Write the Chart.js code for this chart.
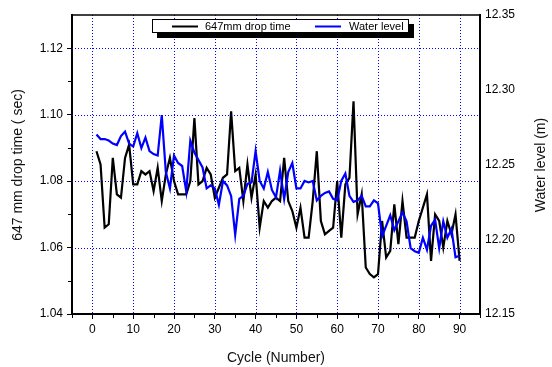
<!DOCTYPE html>
<html>
<head>
<meta charset="utf-8">
<script src="https://cdn.jsdelivr.net/npm/chart.js@4/dist/chart.umd.min.js"></script>
<style>
  html, body { margin: 0; padding: 0; background: #fff; }
  #wrap { width: 552px; height: 367px; position: relative; }
</style>
</head>
<body>
<div id="wrap"><canvas id="chart"></canvas></div>
<script>
// datos
const cycles = [1,2,3,4,5,6,7,8,9,10,11,12,13,14,15,16,17,18,19,20,
  21,22,23,24,25,26,27,28,29,30,31,32,33,34,35,36,37,38,39,40,
  41,42,43,44,45,46,47,48,49,50,51,52,53,54,55,56,57,58,59,60,
  61,62,63,64,65,66,67,68,69,70,71,72,73,74,75,76,77,78,79,80,
  81,82,83,84,85,86,87,88,89,90];

const dropTime = [1.089,1.085,1.066,1.067,1.087,1.076,1.075,1.087,1.091,1.079,
  1.079,1.083,1.082,1.083,1.077,1.084,1.074,1.082,1.087,1.080,
  1.076,1.076,1.076,1.080,1.099,1.079,1.080,1.084,1.082,1.075,
  1.078,1.081,1.082,1.101,1.083,1.084,1.074,1.085,1.075,1.082,
  1.066,1.074,1.072,1.074,1.075,1.074,1.087,1.074,1.071,1.066,
  1.072,1.063,1.063,1.074,1.089,1.068,1.064,1.065,1.066,1.080,
  1.063,1.079,1.081,1.104,1.070,1.076,1.054,1.052,1.051,1.052,
  1.068,1.057,1.059,1.073,1.061,1.074,1.063,1.063,1.063,1.068,
  1.072,1.076,1.056,1.070,1.068,1.060,1.068,1.064,1.070,1.056];

const waterLevel = [12.270,12.267,12.267,12.266,12.264,12.263,12.269,12.272,12.264,12.262,
  12.271,12.261,12.268,12.259,12.257,12.256,12.283,12.245,12.234,12.256,
  12.251,12.249,12.232,12.266,12.258,12.253,12.248,12.234,12.236,12.234,
  12.223,12.239,12.236,12.229,12.203,12.227,12.229,12.237,12.238,12.259,
  12.239,12.234,12.245,12.233,12.228,12.246,12.227,12.245,12.251,12.234,
  12.234,12.239,12.238,12.239,12.226,12.229,12.231,12.232,12.227,12.226,
  12.239,12.244,12.229,12.225,12.226,12.229,12.222,12.222,12.226,12.224,
  12.202,12.209,12.216,12.206,12.212,12.218,12.212,12.194,12.192,12.191,
  12.201,12.193,12.209,12.213,12.194,12.212,12.201,12.207,12.188,12.189];

const xTicks = [0,10,20,30,40,50,60,70,80,90];
const xMinor = [-5,5,15,25,35,45,55,65,75,85,95];
const leftTicks = [1.04,1.06,1.08,1.10,1.12];
const leftMinor = [1.05,1.07,1.09,1.11];
const rightTicks = [12.15,12.20,12.25,12.30,12.35];

const FONT = "'Liberation Sans', Arial, sans-serif";

const pts = (ys) => cycles.map((c, i) => ({ x: c, y: ys[i] }));

const decoPlugin = {
  id: "deco",
  beforeDatasetsDraw(chart) {
    const { ctx, chartArea: a, scales } = chart;
    ctx.save();
    ctx.strokeStyle = "#0000ff";
    ctx.lineWidth = 1;
    ctx.setLineDash([1, 2]);
    xTicks.forEach((v) => {
      const x = Math.round(scales.x.getPixelForValue(v)) + 0.5;
      ctx.beginPath(); ctx.moveTo(x, a.top); ctx.lineTo(x, a.bottom); ctx.stroke();
    });
    leftTicks.slice(1).forEach((v) => {
      const y = Math.round(scales.y.getPixelForValue(v)) + 0.5;
      ctx.beginPath(); ctx.moveTo(a.left, y); ctx.lineTo(a.right, y); ctx.stroke();
    });
    ctx.restore();
  },
  afterDraw(chart) {
    const { ctx, chartArea: a, scales } = chart;
    ctx.save();
    // ticks menores
    ctx.strokeStyle = "#000";
    ctx.lineWidth = 1;
    xMinor.forEach((v) => {
      const x = Math.round(scales.x.getPixelForValue(v)) + 0.5;
      ctx.beginPath(); ctx.moveTo(x, a.bottom); ctx.lineTo(x, a.bottom + 4); ctx.stroke();
    });
    leftMinor.forEach((v) => {
      const y = Math.round(scales.y.getPixelForValue(v)) + 0.5;
      ctx.beginPath(); ctx.moveTo(a.left - 4, y); ctx.lineTo(a.left, y); ctx.stroke();
    });
    // borde superior
    ctx.lineWidth = 1.5;
    ctx.beginPath(); ctx.moveTo(a.left, a.top); ctx.lineTo(a.right, a.top); ctx.stroke();

    // leyenda
    ctx.fillStyle = "#000";
    ctx.fillRect(157, 24, 257, 14);
    ctx.fillStyle = "#fff";
    ctx.fillRect(152, 19, 257, 14);
    ctx.lineWidth = 1;
    ctx.strokeRect(152.5, 19.5, 256, 13);
    ctx.lineWidth = 2;
    ctx.beginPath(); ctx.moveTo(172, 26.5); ctx.lineTo(198, 26.5); ctx.stroke();
    ctx.strokeStyle = "#0000ff";
    ctx.beginPath(); ctx.moveTo(315, 26.5); ctx.lineTo(341, 26.5); ctx.stroke();
    ctx.fillStyle = "#000";
    ctx.font = "11px " + FONT;
    ctx.textBaseline = "middle";
    ctx.textAlign = "left";
    ctx.fillText("647mm drop time", 205, 26.5);
    ctx.fillText("Water level", 349, 26.5);

    // titulos de ejes
    ctx.font = "14px " + FONT;
    ctx.fillStyle = "#111";
    ctx.textAlign = "center";
    ctx.fillText("Cycle (Number)", 276, 358);
    ctx.save();
    ctx.translate(18, 165);
    ctx.rotate(-Math.PI / 2);
    ctx.fillText("647 mm drop time ( sec)", 0, 0);
    ctx.restore();
    ctx.save();
    ctx.translate(541, 165);
    ctx.rotate(-Math.PI / 2);
    ctx.fillText("Water level (m)", 0, 0);
    ctx.restore();
    ctx.restore();
  },
};

const tickFont = { size: 12, family: FONT };

new Chart(document.getElementById("chart"), {
  type: "line",
  data: {
    datasets: [
      {
        label: "647mm drop time",
        data: pts(dropTime),
        yAxisID: "y",
        borderColor: "#000",
        borderWidth: 2.2,
        pointRadius: 0,
        tension: 0,
        order: 2,
      },
      {
        label: "Water level",
        data: pts(waterLevel),
        yAxisID: "y2",
        borderColor: "#0000ff",
        borderWidth: 2.2,
        pointRadius: 0,
        tension: 0,
        order: 1,
      },
    ],
  },
  options: {
    responsive: true,
    maintainAspectRatio: false,
    animation: false,
    layout: { padding: { top: 15, left: 0, right: 0, bottom: 0 } },
    plugins: { legend: { display: false }, tooltip: { enabled: false } },
    scales: {
      x: {
        type: "linear",
        min: -5,
        max: 95,
        afterBuildTicks: (s) => { s.ticks = xTicks.map((v) => ({ value: v })); },
        afterFit: (s) => { s.height = 53; },
        grid: { drawOnChartArea: false, color: "#000", tickLength: 5 },
        border: { color: "#000", width: 2 },
        ticks: { color: "#000", font: tickFont, padding: 3, maxRotation: 0, autoSkip: false, callback: (v) => v },
      },
      y: {
        position: "left",
        min: 1.04,
        max: 1.13,
        afterBuildTicks: (s) => { s.ticks = leftTicks.map((v) => ({ value: v })); },
        afterFit: (s) => { s.width = 72; },
        grid: { drawOnChartArea: false, color: "#000", tickLength: 5 },
        border: { color: "#000", width: 2 },
        ticks: { color: "#000", font: tickFont, padding: 4, autoSkip: false, callback: (v) => v.toFixed(2) },
      },
      y2: {
        position: "right",
        min: 12.15,
        max: 12.35,
        afterBuildTicks: (s) => { s.ticks = rightTicks.map((v) => ({ value: v })); },
        afterFit: (s) => { s.width = 72; },
        grid: { drawOnChartArea: false, drawTicks: false },
        border: { color: "#000", width: 2 },
        ticks: { color: "#000", font: tickFont, padding: 5, autoSkip: false, callback: (v) => v.toFixed(2) },
      },
    },
  },
  plugins: [decoPlugin],
});
</script>
</body>
</html>
